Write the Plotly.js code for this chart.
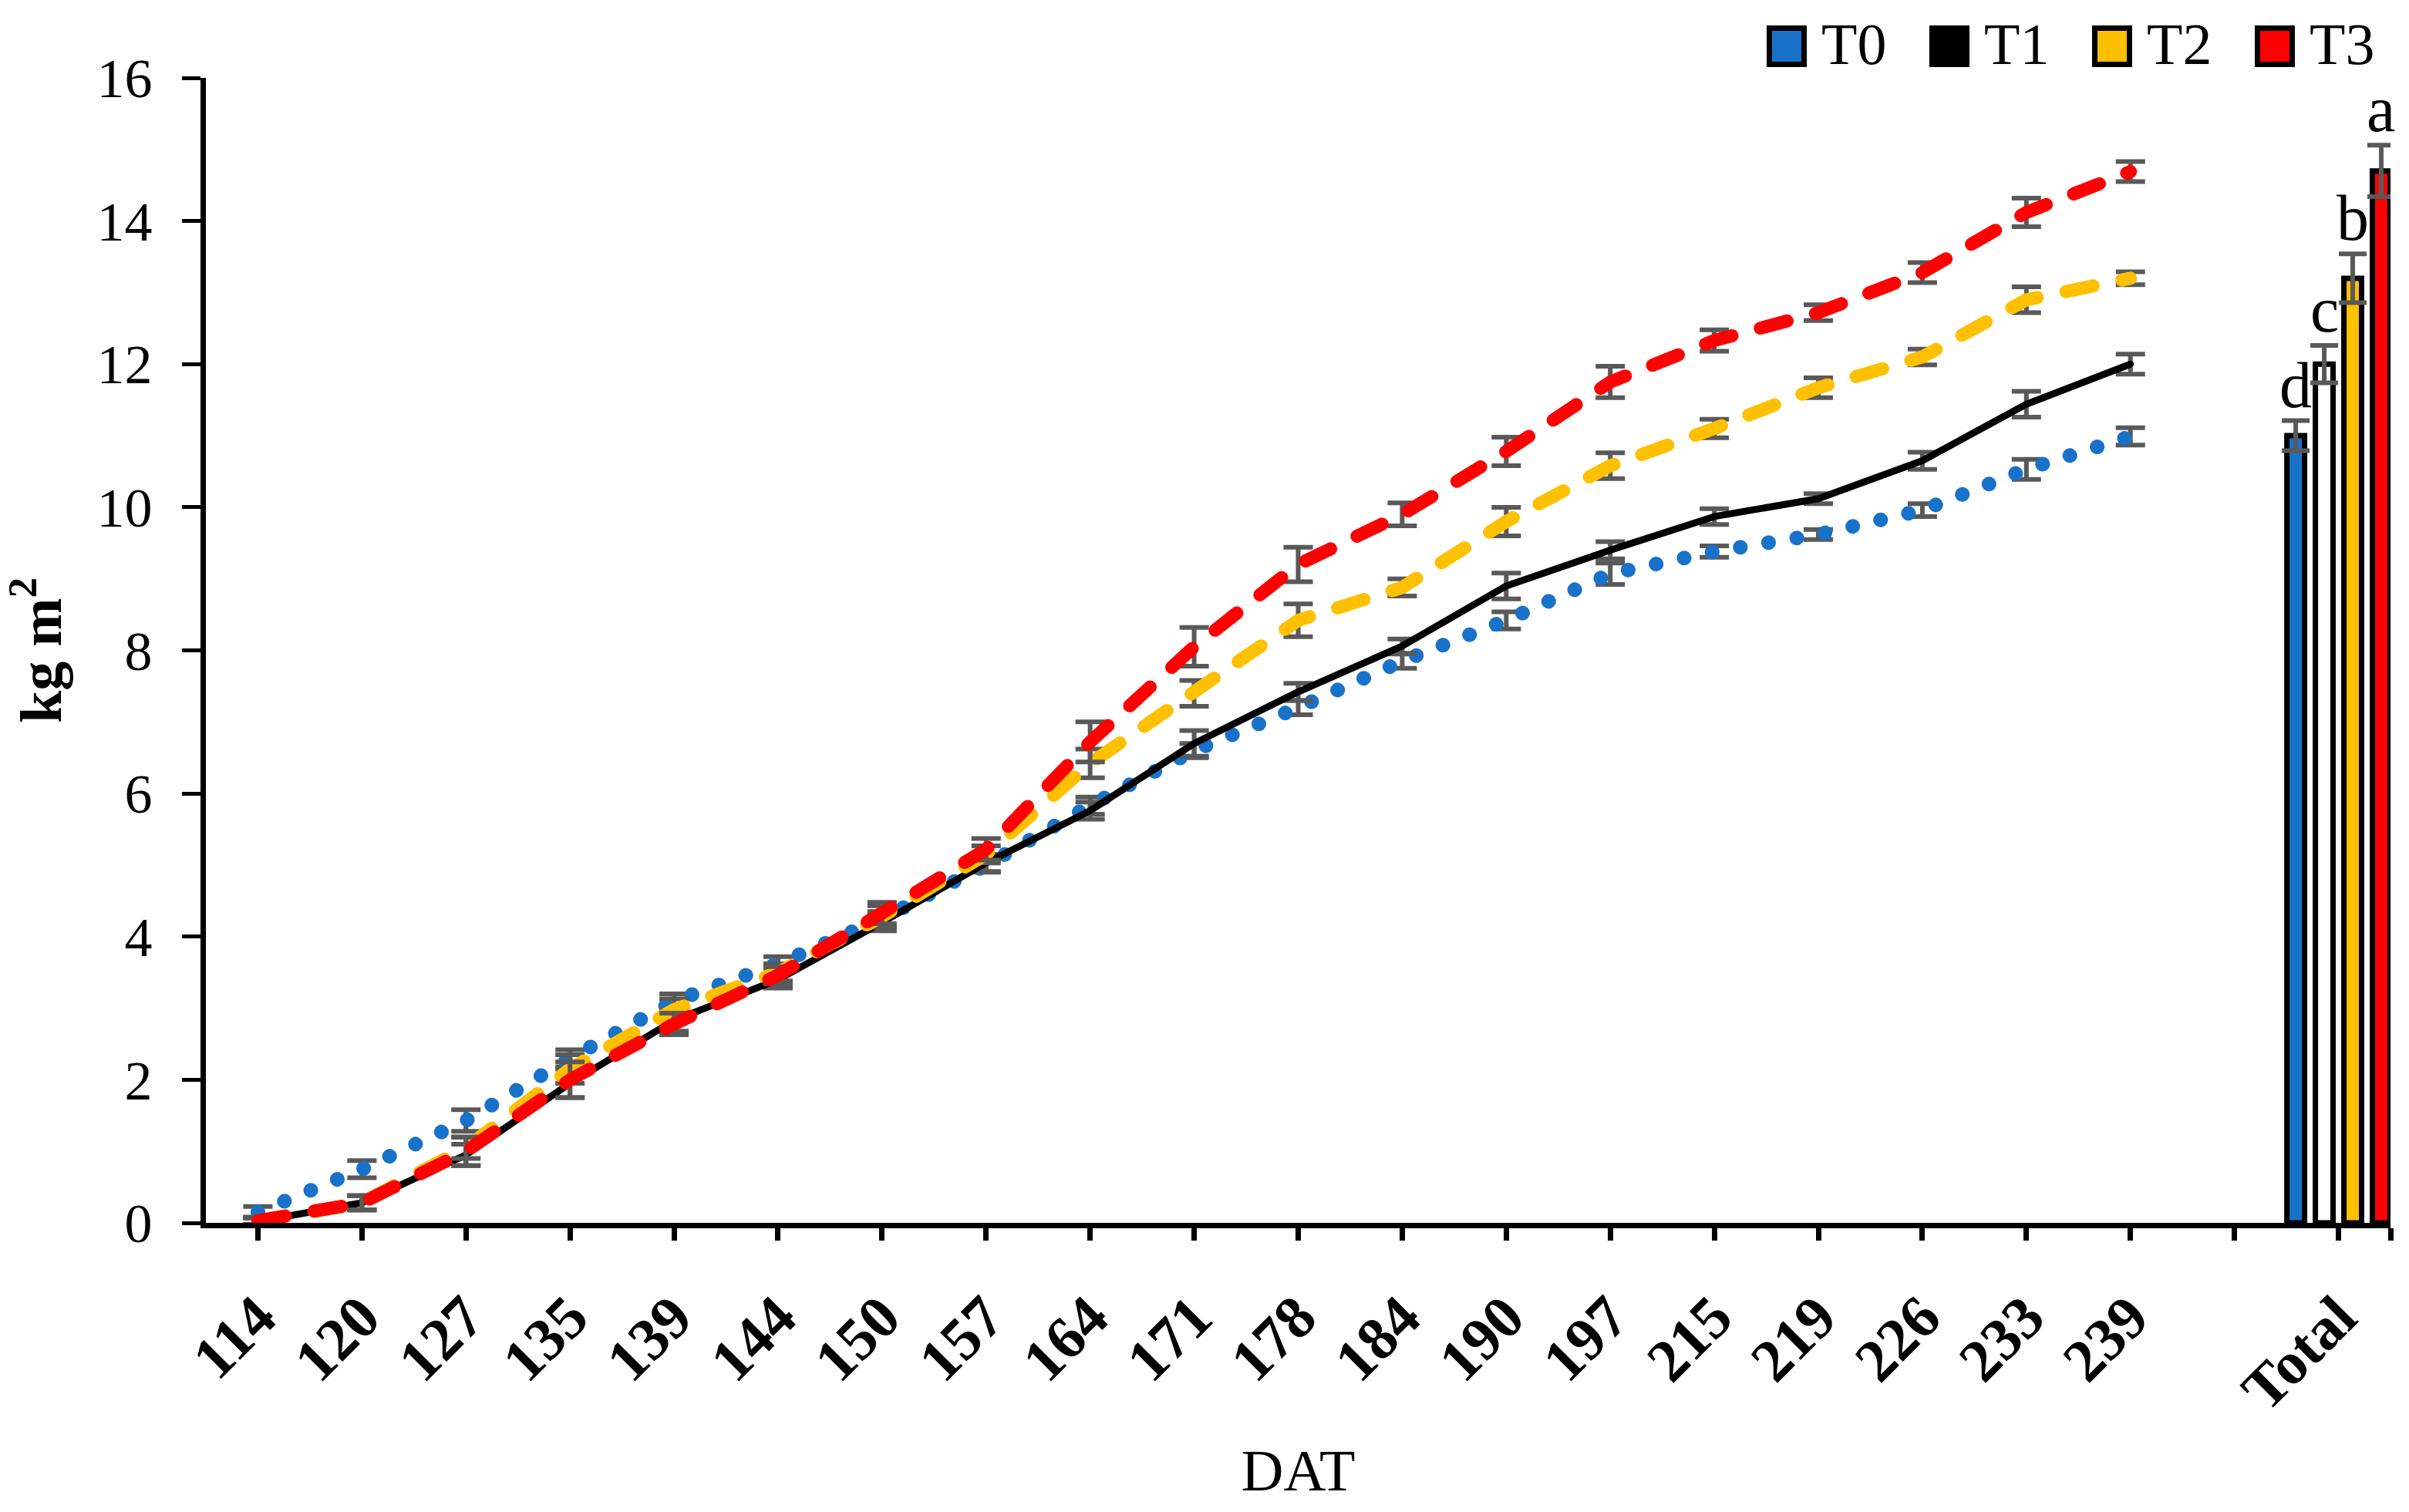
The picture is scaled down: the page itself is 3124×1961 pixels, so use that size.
<!DOCTYPE html>
<html>
<head>
<meta charset="utf-8">
<script src="https://cdn.plot.ly/plotly-3.0.1.min.js"></script>
<style>html,body{margin:0;padding:0;background:#fff;}#chart{width:3124px;height:1961px;}</style>
</head>
<body>
<div id="chart"></div>
<script>
// ---- data ----
var days = ['114','120','127','135','139','144','150','157','164','171','178','184','190','197','215','219','226','233','239'];
var xLabels = days.concat(['', 'Total']);
var seriesNames = ['T0','T1','T2','T3'];
var T0 = [0.15, 0.75, 1.43, 2.30, 3.10, 3.62, 4.25, 5.00, 5.83, 6.60, 7.20, 7.85, 8.42, 9.07, 9.38, 9.62, 9.96, 10.53, 10.99];
var T1 = [0.02, 0.28, 0.95, 1.95, 2.83, 3.40, 4.20, 5.03, 5.76, 6.70, 7.42, 8.06, 8.90, 9.40, 9.87, 10.12, 10.65, 11.44, 12.00];
var T2 = [0.02, 0.28, 1.05, 2.15, 2.98, 3.50, 4.28, 5.15, 6.42, 7.40, 8.42, 8.88, 9.80, 10.58, 11.10, 11.67, 12.10, 12.90, 13.20];
var T3 = [0.03, 0.28, 1.00, 2.00, 2.78, 3.46, 4.33, 5.22, 6.72, 8.05, 9.20, 9.90, 10.78, 11.75, 12.33, 12.72, 13.28, 14.12, 14.69];
var T0err = [0.08, 0.12, 0.15, 0.12, 0.10, 0.10, 0.10, 0.10, 0.12, 0.10, 0.10, 0.10, 0.12, 0.15, 0.08, 0.07, 0.09, 0.14, 0.12];
var T1err = [0.05, 0.10, 0.15, 0.20, 0.15, 0.12, 0.12, 0.12, 0.12, 0.18, 0.12, 0.10, 0.18, 0.12, 0.11, 0.07, 0.12, 0.18, 0.14];
var T2err = [0.05, 0.10, 0.15, 0.20, 0.15, 0.12, 0.15, 0.12, 0.20, 0.18, 0.23, 0.12, 0.20, 0.18, 0.13, 0.14, 0.11, 0.18, 0.09];
var T3err = [0.05, 0.10, 0.20, 0.25, 0.15, 0.12, 0.15, 0.15, 0.28, 0.27, 0.24, 0.16, 0.20, 0.22, 0.15, 0.11, 0.14, 0.20, 0.14];
var totals = [11.0, 12.0, 13.2, 14.7];
var totalErr = [0.21, 0.26, 0.34, 0.36];
var letters = ['d', 'c', 'b', 'a'];
var yTicks = [0, 2, 4, 6, 8, 10, 12, 14, 16];

// ---- styles ----
var lineColors = ['#1872C9', '#000000', '#FFC000', '#FF0000'];
var barFills = ['#1872C9', '#FFFFFF', '#FFC000', '#FF0000'];
var lineStyles = [
  {width: 19, dash: '0.1px,37px'},
  {width: 9, dash: 'solid'},
  {width: 17, dash: '36px,38px'},
  {width: 17, dash: '36px,38px'}
];
var errColor = '#595959';
var FONT = 'Liberation Serif, Times New Roman, serif';

var series = [T0, T1, T2, T3];
var errs = [T0err, T1err, T2err, T3err];
var xIdx = days.map(function (d, i) { return i; });
var totalIdx = xLabels.indexOf('Total');
var blankIdx = xLabels.indexOf('');

// plot geometry (px)
var W = 3124, H = 1961;
var M = {l: 267, r: 24, t: 101, b: 375};
var pw = W - M.l - M.r, ph = H - M.t - M.b;
function px2x(px) { return (px - M.l) / pw; }
function px2y(py) { return (H - M.b - py) / ph; }

var traces = [];
// bars (Total)
var barW = 0.17, barStep = 0.274;
for (var i = 0; i < 4; i++) {
  var c = (i - 1.5) * barStep;
  traces.push({
    type: 'bar', x: [totalIdx], y: [totals[i]], name: seriesNames[i],
    width: barW, offset: c - barW / 2,
    marker: {color: barFills[i], line: {color: '#000000', width: 7}},
    error_y: {type: 'data', array: [totalErr[i]], visible: true, color: errColor, thickness: 6, width: 18},
    showlegend: false, hoverinfo: 'skip'
  });
}
// lines
for (var s = 0; s < 4; s++) {
  traces.push({
    type: 'scatter', mode: 'lines', x: xIdx, y: series[s], name: seriesNames[s],
    line: {color: lineColors[s], width: lineStyles[s].width, dash: lineStyles[s].dash},
    error_y: {type: 'data', array: errs[s], visible: true, color: errColor, thickness: 6, width: 19},
    showlegend: false, hoverinfo: 'skip'
  });
}

var shapes = [], annotations = [];
// letters above bars
for (var j = 0; j < 4; j++) {
  annotations.push({
    x: totalIdx + (j - 1.5) * barStep, y: totals[j] + totalErr[j], xref: 'x', yref: 'y',
    text: letters[j], showarrow: false, xanchor: 'center', yanchor: 'bottom', yshift: -2,
    font: {family: FONT, size: 84, color: '#000'}
  });
}
// legend
var legLeft = 2291, legStep = 211;
for (var k = 0; k < 4; k++) {
  var L = legLeft + k * legStep;
  shapes.push({
    type: 'rect', xref: 'paper', yref: 'paper',
    x0: px2x(L + 3.5), x1: px2x(L + 48.5), y0: px2y(83.5), y1: px2y(36.5),
    fillcolor: lineColors[k], line: {color: '#000', width: 7}
  });
  annotations.push({
    x: px2x(L + 69), y: px2y(57), xref: 'paper', yref: 'paper',
    text: seriesNames[k], showarrow: false, xanchor: 'left', yanchor: 'middle',
    font: {family: FONT, size: 76, color: '#000'}
  });
}

// labelled ticks (skip the empty spacer category)
var tickVals = [], tickText = [];
xLabels.forEach(function (d, i) { if (d !== '') { tickVals.push(i); tickText.push(d); } });

var layout = {
  width: W, height: H,
  margin: {l: M.l, r: M.r, t: M.t, b: M.b, pad: 0},
  paper_bgcolor: '#fff', plot_bgcolor: '#fff',
  showlegend: false, barmode: 'overlay',
  font: {family: FONT, color: '#000'},
  xaxis: {
    range: [-0.5, totalIdx + 0.5], tickmode: 'array', tickvals: tickVals, ticktext: tickText,
    tickangle: -45, ticks: 'outside', ticklen: 16, tickwidth: 7, tickcolor: '#000',
    minor: {tickmode: 'array', tickvals: [blankIdx, totalIdx + 0.5], ticks: 'outside', ticklen: 16, tickwidth: 7, tickcolor: '#000', showgrid: false},
    showline: true, linewidth: 7, linecolor: '#000', showgrid: false, zeroline: false,
    tickfont: {family: FONT, size: 78, color: '#000', weight: 'bold'}, ticklabelstandoff: 22,
    title: {text: 'DAT', font: {family: FONT, size: 76, color: '#000'}, standoff: 38},
    automargin: false
  },
  yaxis: {
    range: [0, 16], tickmode: 'array', tickvals: yTicks, ticks: 'outside', ticklen: 24, tickwidth: 5, tickcolor: '#000',
    showline: true, linewidth: 7, linecolor: '#000', showgrid: false, zeroline: false,
    tickfont: {family: FONT, size: 72, color: '#000'}, ticklabelstandoff: 24,
    title: {text: 'kg m<sup>2</sup>', font: {family: FONT, size: 76, color: '#000', weight: 'bold'}, standoff: 40},
    automargin: false
  },
  shapes: shapes,
  annotations: annotations
};

Plotly.newPlot('chart', traces, layout, {displayModeBar: false, staticPlot: true}).then(function () {
  document.querySelectorAll('.scatterlayer .js-line').forEach(function (p) {
    p.style.strokeLinecap = 'round';
    p.style.strokeLinejoin = 'round';
  });
});
</script>
</body>
</html>
